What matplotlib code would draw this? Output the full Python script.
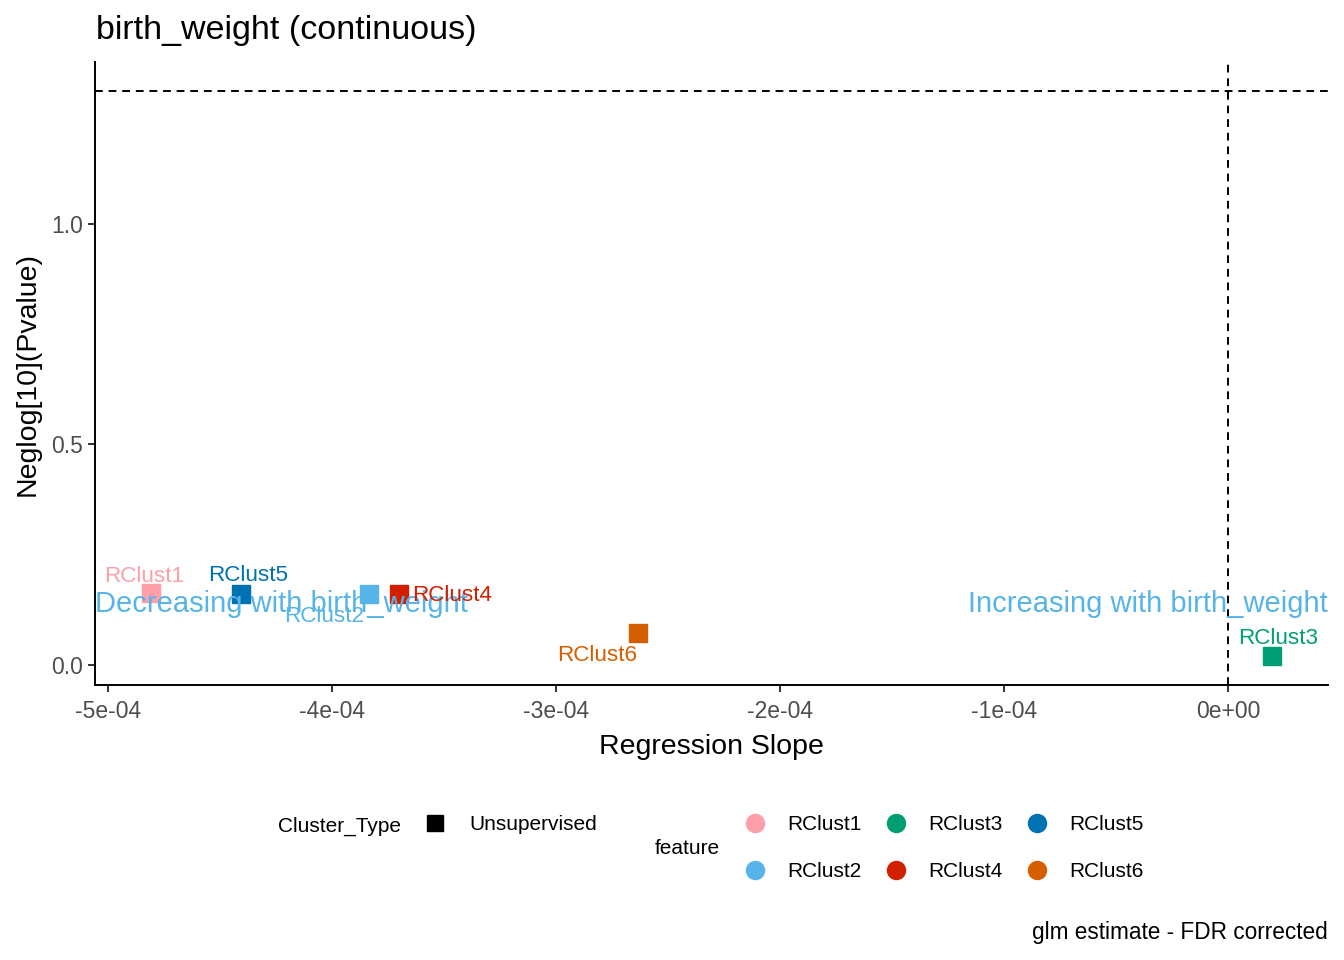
import numpy as np
import matplotlib
matplotlib.use('Agg')
import matplotlib.pyplot as plt
from matplotlib.lines import Line2D

plt.rcParams['font.family'] = ['Liberation Sans', 'DejaVu Sans']

# data
features = ['RClust1', 'RClust2', 'RClust3', 'RClust4', 'RClust5', 'RClust6']
slope    = [-4.81e-4, -3.835e-4, 1.96e-5, -3.70e-4, -4.406e-4, -2.634e-4]
neglogp  = [0.163, 0.161, 0.020, 0.161, 0.161, 0.073]
colors   = ['#FC9FA8', '#56B4E9', '#009E73', '#D21F00', '#0072B2', '#D55E00']
xticks   = [-5e-4, -4e-4, -3e-4, -2e-4, -1e-4, 0.0]
xticklabels = ['-5e-04', '-4e-04', '-3e-04', '-2e-04', '-1e-04', '0e+00']
yticks   = [0.0, 0.5, 1.0]
pcut = 0.05

# label offsets in pixels (ggrepel placement)
offsets = {'RClust1': (-6, 17), 'RClust5': (7, 18), 'RClust2': (-45, -23),
           'RClust4': (53, -2), 'RClust6': (-41, -23), 'RClust3': (6, 18)}

fig = plt.figure(figsize=(13.44, 9.6), dpi=100)
ax = fig.add_axes([95/1344, 1-685/960, (1328-95)/1344, (685-62)/960])

ax.axhline(-np.log10(pcut), color='black', linestyle=(0, (4, 3)), lw=1.4)
ax.axvline(0, color='black', linestyle=(0, (4, 3)), lw=1.4)

for f, x, y, c in zip(features, slope, neglogp, colors):
    ax.plot(x, y, marker='s', ms=12.5, color=c, linestyle='none', zorder=3)

ax.text(-5.058e-4, 0.138, 'Decreasing with birth_weight', color='#56B4E9',
        fontsize=21, ha='left', va='center', zorder=4)
ax.text(4.46e-5, 0.138, 'Increasing with birth_weight', color='#56B4E9',
        fontsize=21, ha='right', va='center', zorder=4)

for f, x, y, c in zip(features, slope, neglogp, colors):
    dx, dy = offsets[f]
    ax.annotate(f, (x, y), xytext=(dx, dy), textcoords='offset pixels',
                color=c, fontsize=16.2, ha='center', va='center', zorder=5)

ax.set_xlim(-5.058e-4, 4.46e-5)
ax.set_ylim(-0.0454, 1.367)
ax.set_xticks(xticks)
ax.set_xticklabels(xticklabels)
ax.set_yticks(yticks)
ax.set_yticklabels(['0.0', '0.5', '1.0'])
ax.tick_params(labelsize=16.5, labelcolor='#4D4D4D', color='#333333',
               length=5, width=1.4)
ax.tick_params(axis='x', pad=5.5)
for s in ['top', 'right']:
    ax.spines[s].set_visible(False)
for s in ['left', 'bottom']:
    ax.spines[s].set_linewidth(1.4)

ax.set_xlabel('Regression Slope', fontsize=20.5, labelpad=8)
ax.set_ylabel('Neglog[10](Pvalue)', fontsize=20.5, labelpad=8)
fig.text(96/1344, 1-31/960, 'birth_weight (continuous)', fontsize=24.5,
         ha='left', va='center')

# legends
fig.text(278/1344, 1-826/960, 'Cluster_Type', fontsize=15, ha='left', va='center')
h1 = [Line2D([], [], marker='s', color='black', linestyle='none', ms=12)]
fig.legend(h1, ['Unsupervised'], loc='center left',
           bbox_to_anchor=(411/1344, 1-825/960), frameon=False, fontsize=15,
           handletextpad=0.9, handlelength=1.5, borderaxespad=0)

fig.text(655/1344, 1-849/960, 'feature', fontsize=15, ha='left', va='center')
h2 = [Line2D([], [], marker='o', color=c, linestyle='none', ms=13) for c in colors]
fig.legend(h2, features, loc='center left', ncol=3,
           bbox_to_anchor=(731/1344, 1-848/960), frameon=False, fontsize=15,
           handletextpad=0.8, handlelength=1.5, columnspacing=0.9,
           labelspacing=1.35, borderaxespad=0)

fig.text(1328/1344, 1-933/960, 'glm estimate - FDR corrected', fontsize=16.3,
         ha='right', va='center')

fig.savefig('out.png', dpi=100)
